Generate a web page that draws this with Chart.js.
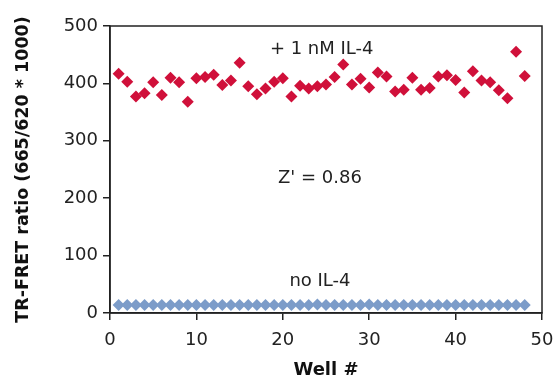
<!DOCTYPE html>
<html>
<head>
<meta charset="utf-8">
<script src="https://cdn.jsdelivr.net/npm/chart.js@4.4.0/dist/chart.umd.min.js"></script>
<style>
  html, body { margin: 0; padding: 0; background: #fff; }
  #wrap { width: 556px; height: 379px; }
</style>
</head>
<body>
<div id="wrap"><canvas id="scatterChart"></canvas></div>
<script>
var wells = [];
for (var i = 1; i <= 48; i++) wells.push(i);

var withIL4 = [417, 403, 377, 383, 402, 380, 410, 402, 368, 409, 411, 415,
  397, 405, 436, 395, 381, 391, 403, 409, 377, 396, 391, 395,
  398, 411, 433, 398, 408, 393, 419, 412, 386, 389, 410, 389,
  392, 412, 414, 406, 384, 421, 405, 402, 388, 374, 455, 413];

var noIL4 = [14, 14, 14, 14, 14, 14, 14, 14, 14, 14, 14, 14,
  14, 14, 14, 14, 14, 14, 14, 14, 14, 14, 14, 15,
  14, 14, 14, 14, 14, 15, 14, 14, 14, 14, 14, 14,
  14, 14, 14, 14, 14, 14, 14, 14, 14, 14, 14, 14];

var yTicks = [0, 100, 200, 300, 400, 500];
var xTicks = [0, 10, 20, 30, 40, 50];

var notes = [
  { text: "+ 1 nM IL-4", x: 24.5, y: 460 },
  { text: "Z' = 0.86", x: 24.3, y: 234 },
  { text: "no IL-4", x: 24.3, y: 56 }
];

function pts(ys) {
  return ys.map(function (v, i) { return { x: wells[i], y: v }; });
}

var font = '"DejaVu Sans", sans-serif';

// draws the frame round the plot and the text notes
var extras = {
  id: 'extras',
  afterDatasetsDraw: function (chart) {
    var c = chart.ctx, a = chart.chartArea;
    c.save();
    c.strokeStyle = '#222';
    c.lineWidth = 1.5;
    c.strokeRect(a.left, a.top, a.right - a.left, a.bottom - a.top);
    c.fillStyle = '#222';
    c.font = '18px ' + font;
    c.textAlign = 'center';
    c.textBaseline = 'middle';
    notes.forEach(function (n) {
      c.fillText(n.text, chart.scales.x.getPixelForValue(n.x), chart.scales.y.getPixelForValue(n.y));
    });
    c.restore();
  }
};

new Chart(document.getElementById('scatterChart'), {
  type: 'scatter',
  data: {
    datasets: [{
      label: '+ 1 nM IL-4',
      data: pts(withIL4),
      pointStyle: 'rectRot',
      pointRadius: 6,
      backgroundColor: '#d0103a',
      borderWidth: 0
    }, {
      label: 'no IL-4',
      data: pts(noIL4),
      pointStyle: 'rectRot',
      pointRadius: 6,
      backgroundColor: '#7c9cc9',
      borderWidth: 0
    }]
  },
  options: {
    responsive: true,
    maintainAspectRatio: false,
    animation: false,
    layout: { padding: { top: 26, right: 14, left: 15, bottom: 0 } },
    plugins: {
      legend: { display: false },
      tooltip: { enabled: false }
    },
    scales: {
      x: {
        type: 'linear',
        min: 0,
        max: 50,
        afterBuildTicks: function (s) { s.ticks = xTicks.map(function (v) { return { value: v }; }); },
        afterFit: function (s) { s.height = 66; s.paddingLeft = 0; s.paddingRight = 0; },
        grid: { drawOnChartArea: false, drawTicks: true, tickLength: 7, color: '#222', lineWidth: 1.5 },
        border: { color: '#222', width: 1.5 },
        ticks: { color: '#222', font: { size: 18, family: font }, padding: 10, maxRotation: 0 },
        title: { display: true, text: 'Well #', color: '#111', font: { size: 18, weight: 'bold', family: font, lineHeight: 1 }, padding: { top: 0, bottom: 0 } }
      },
      y: {
        min: 0,
        max: 500,
        afterBuildTicks: function (s) { s.ticks = yTicks.map(function (v) { return { value: v }; }); },
        afterFit: function (s) { s.width = 95; s.paddingTop = 0; s.paddingBottom = 0; },
        grid: { drawOnChartArea: false, drawTicks: true, tickLength: 7, color: '#222', lineWidth: 1.5 },
        border: { color: '#222', width: 1.5 },
        ticks: { color: '#222', font: { size: 18, family: font }, padding: 5 },
        title: { display: true, text: 'TR-FRET ratio (665/620 * 1000)', color: '#111', font: { size: 17.5, weight: 'bold', family: font, lineHeight: 1 }, padding: { top: 0, bottom: 0 } }
      }
    }
  },
  plugins: [extras]
});
</script>
</body>
</html>
